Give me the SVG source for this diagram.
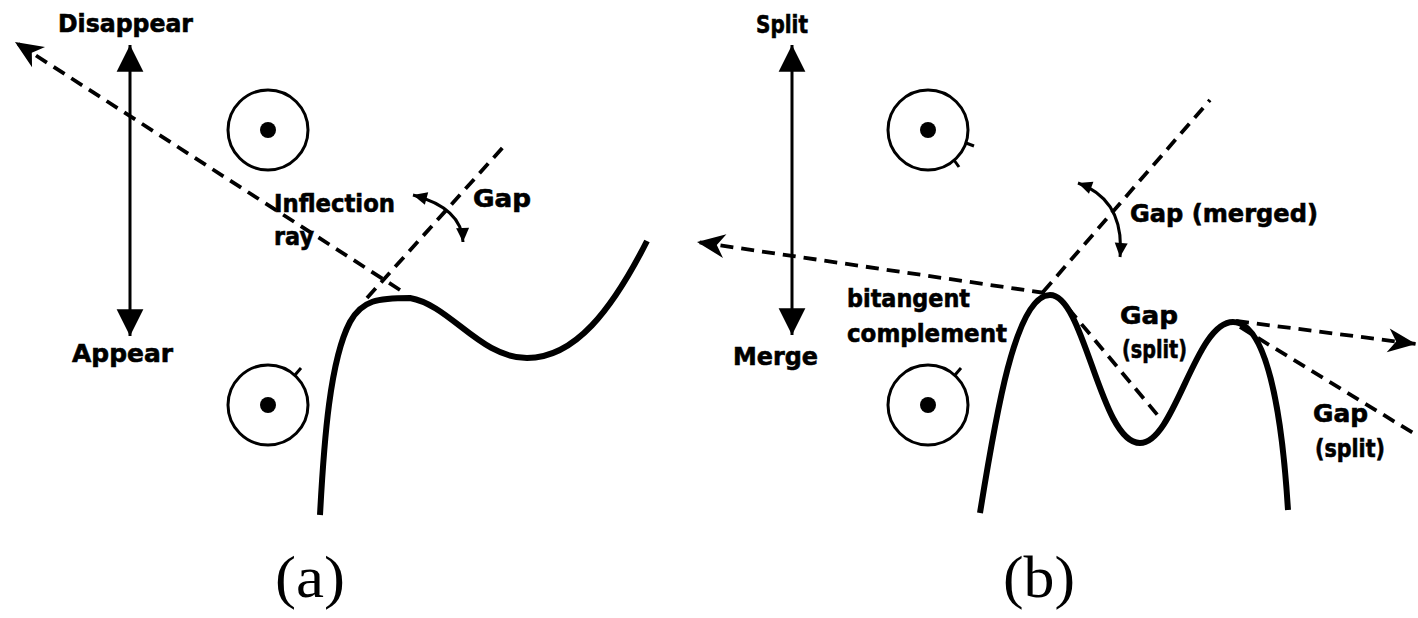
<svg xmlns="http://www.w3.org/2000/svg" width="1418" height="618" viewBox="0 0 1418 618">
  <style>
    .lbl { font-family: "DejaVu Sans", "Liberation Sans", sans-serif; font-weight: bold; font-size: 24px; fill: #000; stroke: #000; stroke-width: 0.6; }
    .cap { font-family: "Liberation Serif", "Times New Roman", serif; font-size: 60px; fill: #000; }
    .dash { fill: none; stroke: #000; stroke-width: 3.8; stroke-dasharray: 13 8; }
    .axis { fill: none; stroke: #000; stroke-width: 3; }
    .curve { fill: none; stroke: #000; stroke-width: 6; stroke-linecap: butt; }
    .ring { fill: none; stroke: #000; stroke-width: 3; }
    .tick { stroke: #000; stroke-width: 3; }
    .swing { fill: none; stroke: #000; stroke-width: 3; }
  </style>
  <defs>
    <marker id="bigHead" markerUnits="userSpaceOnUse" markerWidth="30" markerHeight="30" viewBox="-26 -14 28 28" refX="0" refY="0" orient="auto-start-reverse">
      <path d="M0,0 L-25,-12.5 L-25,12.5 Z" fill="#000"/>
    </marker>
    <marker id="barb" markerUnits="userSpaceOnUse" markerWidth="32" markerHeight="28" viewBox="-30 -14 32 28" refX="0" refY="0" orient="auto">
      <path d="M0,0 L-28,-12 L-20,0 L-28,12 Z" fill="#000"/>
    </marker>
    <marker id="small" markerUnits="userSpaceOnUse" markerWidth="18" markerHeight="16" viewBox="-16 -8 18 16" refX="0" refY="0" orient="auto-start-reverse">
      <path d="M0,0 L-14,-6.5 L-14,6.5 Z" fill="#000"/>
    </marker>
  </defs>

  <!-- panel (a) -->
  <g id="axis-a">
    <line class="axis" x1="130" y1="45" x2="130" y2="336" marker-start="url(#bigHead)" marker-end="url(#bigHead)"/>
  </g>
  <g id="label-disappear"><text class="lbl" x="58" y="32" textLength="135" lengthAdjust="spacingAndGlyphs">Disappear</text></g>
  <g id="label-appear"><text class="lbl" x="72" y="362" textLength="101" lengthAdjust="spacingAndGlyphs">Appear</text></g>

  <g id="circle-a-top">
    <circle class="ring" cx="268" cy="130" r="40"/>
    <circle cx="268" cy="130" r="8"/>
  </g>
  <g id="circle-a-bottom">
    <circle class="ring" cx="268" cy="405" r="40"/>
    <circle cx="268" cy="405" r="8"/>
    <line class="tick" x1="295" y1="375" x2="301" y2="368"/>
  </g>

  <g id="curve-a">
    <path class="curve" d="M320,515 C324,440 330,360 350,322 C362,300 378,298 410,298 C450,305 480,358 527,358 C575,358 612,310 647,241"/>
  </g>

  <g id="label-inflection">
    <text class="lbl" x="274" y="212" textLength="121" lengthAdjust="spacingAndGlyphs">Inflection</text>
    <text class="lbl" x="274" y="245" textLength="40" lengthAdjust="spacingAndGlyphs">ray</text>
  </g>
  <g id="label-gap-a"><text class="lbl" x="473" y="207" textLength="58" lengthAdjust="spacingAndGlyphs">Gap</text></g>

  <!-- panel (b) -->
  <g id="axis-b">
    <line class="axis" x1="792" y1="45" x2="792" y2="335" marker-start="url(#bigHead)" marker-end="url(#bigHead)"/>
  </g>
  <g id="label-split"><text class="lbl" x="756" y="33" textLength="52" lengthAdjust="spacingAndGlyphs">Split</text></g>
  <g id="label-merge"><text class="lbl" x="733" y="365" textLength="85" lengthAdjust="spacingAndGlyphs">Merge</text></g>

  <g id="circle-b-top">
    <circle class="ring" cx="928" cy="130" r="40"/>
    <circle cx="928" cy="130" r="8"/>
    <line class="tick" x1="966" y1="143" x2="974" y2="146"/>
    <line class="tick" x1="954" y1="160" x2="959" y2="167"/>
  </g>
  <g id="circle-b-bottom">
    <circle class="ring" cx="928" cy="405" r="40"/>
    <circle cx="928" cy="405" r="8"/>
    <line class="tick" x1="955" y1="375" x2="961" y2="368"/>
  </g>

  <g id="curve-b">
    <path class="curve" d="M980,513 C995,420 1015,295 1050,295 C1085,295 1100,443 1140,443 C1175,443 1195,322 1233,322 C1270,322 1283,430 1288,510"/>
  </g>

  <g id="label-bitangent">
    <text class="lbl" x="847" y="307" textLength="123" lengthAdjust="spacingAndGlyphs">bitangent</text>
    <text class="lbl" x="847" y="342" textLength="160" lengthAdjust="spacingAndGlyphs">complement</text>
  </g>
  <g id="label-gap-merged"><text class="lbl" x="1130" y="222" textLength="188" lengthAdjust="spacingAndGlyphs">Gap (merged)</text></g>
  <g id="label-gap-split-1">
    <text class="lbl" x="1120" y="324" textLength="58" lengthAdjust="spacingAndGlyphs">Gap</text>
    <text class="lbl" x="1122" y="358" textLength="65" lengthAdjust="spacingAndGlyphs">(split)</text>
  </g>
  <g id="label-gap-split-2">
    <text class="lbl" x="1313" y="422" textLength="55" lengthAdjust="spacingAndGlyphs">Gap</text>
    <text class="lbl" x="1315" y="457" textLength="70" lengthAdjust="spacingAndGlyphs">(split)</text>
  </g>

  <!-- rays, tangents and swing arrows -->
  <g id="connectors">
    <line class="dash" x1="400" y1="290" x2="15" y2="42" marker-end="url(#barb)"/>
    <line class="dash" x1="367" y1="298" x2="505" y2="145"/>
    <path class="swing" d="M413,195 Q462,208 463,242" marker-start="url(#small)" marker-end="url(#small)"/>

    <line class="dash" x1="1045" y1="293" x2="697" y2="242" marker-end="url(#barb)"/>
    <line class="dash" x1="1043" y1="292" x2="1210" y2="100"/>
    <path class="swing" d="M1078,183 Q1125,200 1120,257" marker-start="url(#small)" marker-end="url(#small)"/>
    <line class="dash" x1="1068" y1="308" x2="1160" y2="418"/>
    <line class="dash" x1="1236" y1="321" x2="1416" y2="344" marker-end="url(#barb)"/>
    <line class="dash" x1="1240" y1="327" x2="1418" y2="436"/>
  </g>

  <g id="caption-a"><text class="cap" x="275" y="597" textLength="70" lengthAdjust="spacingAndGlyphs">(a)</text></g>
  <g id="caption-b"><text class="cap" x="1003" y="597" textLength="72" lengthAdjust="spacingAndGlyphs">(b)</text></g>
</svg>
